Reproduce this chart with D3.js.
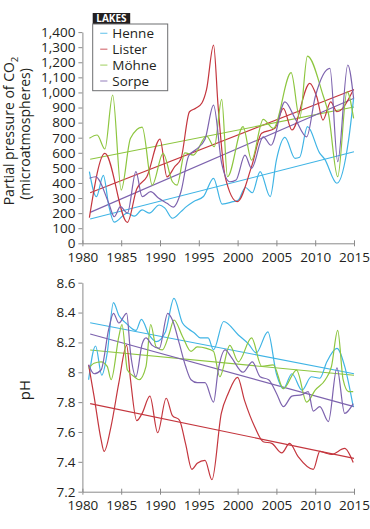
<!DOCTYPE html>
<html>
<head>
<meta charset="utf-8">
<script src="https://cdn.jsdelivr.net/npm/d3@7"></script>
<style>
  body { margin: 0; background: #fff; }
  svg text { font-family: "Open Sans", sans-serif; fill: #231f20; }
</style>
</head>
<body>
<svg id="chart" width="370" height="529"></svg>
<script>
// Lakes and their colours
const lakes = ['Henne', 'Lister', 'Möhne', 'Sorpe'];
const colors = ['#3fb4e5', '#c4363e', '#8dc63f', '#7d63ae'];

// Tick labels
const yearTicks = [1980, 1985, 1990, 1995, 2000, 2005, 2010, 2015];
const co2Ticks = [0, 100, 200, 300, 400, 500, 600, 700, 800, 900, 1000, 1100, 1200, 1300, 1400];
const phTicks = [7.2, 7.4, 7.6, 7.8, 8, 8.2, 8.4, 8.6];

// Partial pressure of CO2, [year, microatmospheres]
const henneCO2 = [[1980.9, 475], [1981.8, 309], [1982.7, 450], [1983.4, 250], [1984.1, 140], [1985.8, 200],
  [1986.7, 180], [1987.7, 221], [1988.6, 200], [1989.9, 254], [1990.6, 235], [1991.6, 166], [1992.7, 210],
  [1993.4, 243], [1994.3, 276], [1995.6, 310], [1996.9, 431], [1998.0, 260], [1999.4, 276], [2000.1, 287],
  [2001.0, 370], [2001.9, 335], [2002.9, 475], [2004.2, 309], [2005.0, 552], [2006.1, 702], [2007.4, 563],
  [2008.0, 570], [2009.0, 773], [2010.6, 596], [2011.2, 560], [2012.8, 398], [2014.3, 684], [2014.95, 961]];
const listerCO2 = [[1980.9, 170], [1982.9, 596], [1985.8, 139], [1987.0, 360], [1988.3, 441], [1990.0, 691],
  [1990.9, 440], [1991.9, 508], [1992.7, 560], [1993.8, 872], [1994.6, 895], [1995.4, 930], [1996.0, 1020],
  [1996.9, 1314], [1997.5, 900], [1998.4, 440], [1999.95, 276], [2001.8, 508], [2003.1, 729], [2004.8, 762],
  [2005.9, 895], [2007.0, 751], [2009.3, 1060], [2010.2, 971], [2011.0, 817], [2012.0, 938], [2012.8, 872],
  [2014.9, 1016]];
const mohneCO2 = [[1980.9, 696], [1981.9, 718], [1982.9, 625], [1983.9, 983], [1985.0, 353], [1986.2, 696],
  [1987.7, 770], [1989.0, 386], [1990.4, 596], [1991.6, 408], [1992.2, 386], [1993.2, 600], [1994.3, 585],
  [1996.0, 711], [1997.0, 640], [1997.95, 954], [1998.7, 441], [2000.7, 773], [2001.8, 552], [2003.3, 822],
  [2004.6, 762], [2006.9, 1131], [2008.0, 828], [2009.0, 1241], [2011.0, 983], [2011.7, 861], [2012.9, 441],
  [2014.1, 1005], [2014.95, 828]];
const sorpeCO2 = [[1980.9, 431], [1981.7, 441], [1983.4, 265], [1984.1, 176], [1984.9, 243], [1985.8, 200],
  [1986.9, 475], [1987.7, 309], [1988.8, 342], [1989.8, 300], [1990.9, 265], [1991.7, 240], [1992.7, 342],
  [1993.7, 580], [1994.6, 620], [1995.8, 690], [1996.9, 916], [1997.95, 530], [1999.0, 408], [1999.8, 420],
  [2000.95, 585], [2001.8, 497], [2003.3, 706], [2004.3, 650], [2006.1, 938], [2007.4, 828], [2008.9, 706],
  [2010.0, 971], [2011.9, 1160], [2012.9, 541], [2014.2, 1182], [2014.95, 961]];

// pH, [year, pH]
const hennePH = [[1980.8, 7.95], [1981.7, 8.176], [1982.5, 7.98], [1983.2, 8.13], [1984.0, 8.466], [1984.7, 8.38],
  [1985.6, 8.33], [1986.9, 8.28], [1987.6, 8.355], [1988.6, 8.25], [1989.5, 8.205], [1990.7, 8.27], [1991.8, 8.495],
  [1992.9, 8.33], [1993.7, 8.29], [1994.5, 8.26], [1995.2, 8.23], [1996.2, 8.23], [1996.9, 8.15], [1998.2, 8.34],
  [2000.1, 8.25], [2001.4, 8.19], [2002.4, 8.13], [2003.9, 8.27], [2005.0, 7.99], [2005.9, 7.89], [2007.0, 7.99],
  [2008.3, 7.88], [2009.5, 7.97], [2010.6, 7.96], [2011.5, 8.07], [2012.8, 8.16], [2013.8, 8.04], [2014.9, 7.77]];
const listerPH = [[1980.8, 8.05], [1981.5, 7.84], [1982.4, 7.55], [1982.8, 7.47], [1983.7, 7.64], [1984.7, 7.93],
  [1985.7, 8.18], [1986.2, 7.95], [1987.0, 7.676], [1987.7, 7.725], [1988.7, 7.84], [1989.7, 7.595], [1990.8, 7.826],
  [1991.6, 7.71], [1992.5, 7.68], [1993.3, 7.52], [1994.1, 7.35], [1994.8, 7.39], [1995.8, 7.41], [1996.7, 7.28],
  [1997.9, 7.725], [1998.8, 7.86], [2000.0, 7.966], [2000.9, 7.81], [2002.2, 7.635], [2003.3, 7.535], [2004.4, 7.524],
  [2005.7, 7.46], [2006.7, 7.524], [2007.8, 7.435], [2009.75, 7.35], [2010.6, 7.47], [2011.3, 7.46], [2012.1, 7.45],
  [2013.8, 7.49], [2014.9, 7.395]];
const mohnePH = [[1980.8, 8.026], [1981.5, 8.06], [1982.4, 8.07], [1983.2, 8.04], [1983.7, 7.95], [1984.7, 8.24],
  [1985.1, 8.32], [1985.8, 8.015], [1986.7, 7.97], [1987.3, 7.95], [1988.2, 8.04], [1988.8, 8.32], [1989.5, 8.17],
  [1990.3, 8.15], [1991.2, 8.26], [1991.8, 8.35], [1992.9, 8.24], [1994.0, 8.14], [1994.8, 8.17], [1996.0, 8.16],
  [1996.9, 8.14], [1997.7, 7.97], [1999.0, 8.18], [2000.1, 8.07], [2001.8, 8.23], [2003.1, 8.04], [2004.6, 8.05],
  [2005.9, 7.89], [2007.6, 8.015], [2008.9, 7.80], [2010.0, 7.88], [2011.3, 7.95], [2012.1, 8.04], [2012.9, 8.28],
  [2013.6, 7.95], [2014.3, 7.87], [2014.9, 7.87]];
const sorpePH = [[1980.8, 8.05], [1981.5, 7.99], [1982.4, 8.015], [1983.4, 8.29], [1984.0, 8.395], [1984.7, 8.33],
  [1985.7, 8.395], [1986.2, 8.13], [1986.9, 7.97], [1987.7, 8.19], [1988.2, 8.23], [1989.0, 8.18], [1989.9, 8.16],
  [1991.0, 8.395], [1991.6, 8.35], [1992.5, 8.19], [1993.3, 8.04], [1994.0, 7.95], [1994.8, 7.93], [1995.8, 7.93],
  [1996.9, 7.80], [1997.5, 8.015], [1998.4, 8.15], [1999.2, 8.10], [2000.7, 8.0], [2001.9, 8.07], [2002.9, 7.97],
  [2004.0, 7.95], [2005.0, 7.86], [2005.9, 7.77], [2007.0, 7.84], [2008.3, 7.85], [2009.1, 7.87], [2009.75, 7.74],
  [2010.6, 7.77], [2011.7, 7.67], [2012.8, 8.03], [2013.8, 7.725], [2014.9, 7.79]];

// Linear trends, start (1981) and end (2015) values per lake
const trendYears = [1981, 2015];
const co2Trend = [[161, 607], [335, 1020], [557, 903], [205, 961]];
const phTrend = [[8.332, 7.99], [7.79, 7.423], [8.149, 7.98], [8.256, 7.77]];

const co2Series = [henneCO2, listerCO2, mohneCO2, sorpeCO2];
const phSeries = [hennePH, listerPH, mohnePH, sorpePH];

const svg = d3.select('#chart');
const axisColor = '#8a8a8a';

const x = d3.scaleLinear().domain([1980, 2015]).range([82.4, 354]);
const yCO2 = d3.scaleLinear().domain([0, 1400]).range([243.3, 32.1]);
const yPH = d3.scaleLinear().domain([7.2, 8.6]).range([491.7, 282.7]);

function drawPanel(y, ticks, fmt, series, trend) {
  const g = svg.append('g');
  const bottom = y.range()[0];

  // x axis, ticks cross the axis line
  const xAxis = g.append('g')
    .attr('transform', `translate(0,${bottom})`)
    .call(d3.axisBottom(x).tickValues(yearTicks).tickFormat(d3.format('d'))
      .tickSizeInner(3).tickSizeOuter(0).tickPadding(6));
  xAxis.selectAll('.tick line').attr('y1', -3);

  // y axis
  const yAxis = g.append('g')
    .attr('transform', `translate(${x.range()[0]},0)`)
    .call(d3.axisLeft(y).tickValues(ticks).tickFormat(fmt)
      .tickSizeInner(4).tickSizeOuter(0).tickPadding(3));

  [xAxis, yAxis].forEach(a => {
    a.selectAll('path, line').attr('stroke', axisColor);
    a.selectAll('text').attr('font-size', 13.5).attr('fill', '#231f20')
      .attr('font-family', '"Open Sans", sans-serif');
  });

  const line = d3.line()
    .curve(d3.curveMonotoneX)
    .x(d => x(d[0]))
    .y(d => y(d[1]));

  // trend lines
  g.selectAll('.trend')
    .data(trend)
    .join('line')
    .attr('class', 'trend')
    .attr('x1', x(trendYears[0]))
    .attr('x2', x(trendYears[1]))
    .attr('y1', d => y(d[0]))
    .attr('y2', d => y(d[1]))
    .attr('stroke', (d, i) => colors[i])
    .attr('stroke-width', 1.1);

  // measured series
  g.selectAll('.series')
    .data(series)
    .join('path')
    .attr('class', 'series')
    .attr('fill', 'none')
    .attr('stroke', (d, i) => colors[i])
    .attr('stroke-width', 1.2)
    .attr('d', line);
}

drawPanel(yCO2, co2Ticks, d3.format(','), co2Series, co2Trend);
drawPanel(yPH, phTicks, d => String(d), phSeries, phTrend);

// Axis titles
const co2Title = svg.append('text')
  .attr('transform', 'translate(14,131) rotate(-90)')
  .attr('text-anchor', 'middle')
  .attr('font-size', 14);
co2Title.append('tspan').text('Partial pressure of CO');
co2Title.append('tspan').attr('font-size', 9.5).attr('dy', 4).text('2');

svg.append('text')
  .attr('transform', 'translate(30,134) rotate(-90)')
  .attr('text-anchor', 'middle')
  .attr('font-size', 14)
  .text('(microatmospheres)');

svg.append('text')
  .attr('transform', 'translate(30,390) rotate(-90)')
  .attr('text-anchor', 'middle')
  .attr('font-size', 15)
  .text('pH');

// Legend
const legend = svg.append('g').attr('transform', 'translate(92.7,13)');
legend.append('rect')
  .attr('width', 37.5).attr('height', 11)
  .attr('fill', '#231f20');
legend.append('text')
  .attr('x', 18.75).attr('y', 9)
  .attr('text-anchor', 'middle')
  .attr('font-size', 10).attr('font-weight', 'bold')
  .style('fill', '#fff')
  .text('LAKES');
legend.append('rect')
  .attr('y', 11)
  .attr('width', 75).attr('height', 66.7)
  .attr('fill', '#fff')
  .attr('stroke', '#6d6e71').attr('stroke-width', 1);

const items = legend.selectAll('.item')
  .data(lakes)
  .join('g')
  .attr('class', 'item')
  .attr('transform', (d, i) => `translate(0,${20.3 + i * 15.9})`);
items.append('line')
  .attr('x1', 7.5).attr('x2', 14.7)
  .attr('stroke', (d, i) => colors[i])
  .attr('stroke-opacity', 0.7)
  .attr('stroke-width', 1.2);
items.append('text')
  .attr('x', 19.6).attr('dy', '0.35em')
  .attr('font-size', 13.5)
  .text(d => d);
</script>
</body>
</html>
